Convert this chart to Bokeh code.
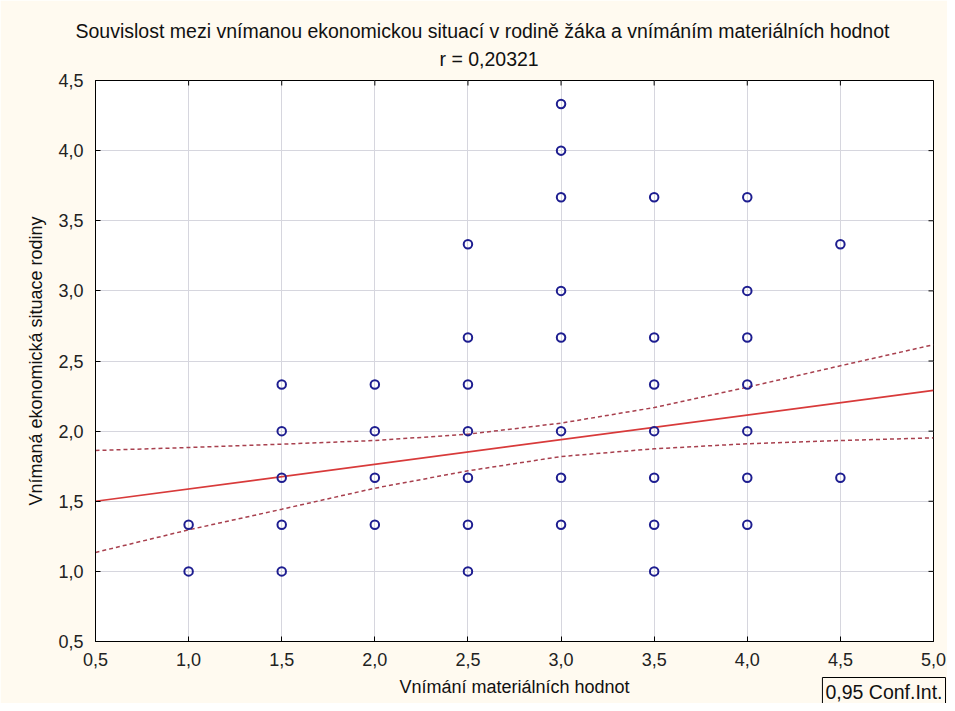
import math
from bokeh.plotting import figure
from bokeh.models import Title, FixedTicker, Range1d
from bokeh.embed import file_html
from bokeh.resources import INLINE

chart_title = "Souvislost mezi vnímanou ekonomickou situací v rodině žáka a vnímáním materiálních hodnot"
chart_subtitle = "r = 0,20321"
x_label = "Vnímání materiálních hodnot"
y_label = "Vnímaná ekonomická situace rodiny"
legend_text = "0,95 Conf.Int."

x_ticks = [0.5, 1.0, 1.5, 2.0, 2.5, 3.0, 3.5, 4.0, 4.5, 5.0]
x_tick_labels = ["0,5", "1,0", "1,5", "2,0", "2,5", "3,0", "3,5", "4,0", "4,5", "5,0"]
y_ticks = [0.5, 1.0, 1.5, 2.0, 2.5, 3.0, 3.5, 4.0, 4.5]
y_tick_labels = ["0,5", "1,0", "1,5", "2,0", "2,5", "3,0", "3,5", "4,0", "4,5"]

point_x = [1.0, 1.0,
           1.5, 1.5, 1.5, 1.5, 1.5,
           2.0, 2.0, 2.0, 2.0,
           2.5, 2.5, 2.5, 2.5, 2.5, 2.5, 2.5,
           3.0, 3.0, 3.0, 3.0, 3.0, 3.0, 3.0, 3.0,
           3.5, 3.5, 3.5, 3.5, 3.5, 3.5, 3.5,
           4.0, 4.0, 4.0, 4.0, 4.0, 4.0, 4.0,
           4.5, 4.5]
point_y = [1.0, 1.333,
           1.0, 1.333, 1.667, 2.0, 2.333,
           1.333, 1.667, 2.0, 2.333,
           1.0, 1.333, 1.667, 2.0, 2.333, 2.667, 3.333,
           1.333, 1.667, 2.0, 2.667, 3.0, 3.667, 4.0, 4.333,
           1.0, 1.333, 1.667, 2.0, 2.333, 2.667, 3.667,
           1.333, 1.667, 2.0, 2.333, 2.667, 3.0, 3.667,
           1.667, 3.333]

reg_x = [0.5, 5.0]
reg_y = [1.50, 2.29]

band_x = [0.5, 1.0, 1.5, 2.0, 2.5, 3.0, 3.5, 4.0, 4.5, 5.0]
band_upper = [1.862, 1.883, 1.907, 1.933, 1.978, 2.057, 2.168, 2.313, 2.466, 2.616]
band_lower = [1.135, 1.296, 1.443, 1.593, 1.717, 1.819, 1.874, 1.910, 1.933, 1.952]

FONT = "Liberation Sans"
CREAM = "#FFFAF0"

p = figure(width=947, height=703, x_range=Range1d(x_ticks[0], x_ticks[-1]),
           y_range=Range1d(y_ticks[0], y_ticks[-1]),
           output_backend="svg", toolbar_location=None, title=None,
           min_border_left=95, min_border_right=14, min_border_top=80, min_border_bottom=62,
           background_fill_color="white", border_fill_color=CREAM,
           outline_line_color="black", outline_line_width=1)

def style_axis(ax, ticks, labels):
    ax.ticker = FixedTicker(ticks=ticks)
    ax.major_label_overrides = dict(zip(ticks, labels))
    ax.major_tick_in = 5
    ax.major_tick_out = 0
    ax.minor_tick_in = 0
    ax.minor_tick_out = 0
    ax.axis_line_color = "black"
    ax.major_tick_line_color = "black"
    ax.major_label_text_font = FONT
    ax.major_label_text_color = "#222222"
    ax.major_label_text_font_size = "18px"
    ax.axis_label_text_font = FONT
    ax.axis_label_text_font_size = "18px"
    ax.axis_label_text_font_style = "normal"
    ax.axis_label_text_color = "#111111"

xa = p.xaxis[0]
ya = p.yaxis[0]
style_axis(xa, x_ticks, x_tick_labels)
style_axis(ya, y_ticks, y_tick_labels)
xa.axis_label = x_label
ya.axis_label = y_label
xa.major_label_standoff = 11
xa.axis_label_standoff = 8
ya.major_label_standoff = 12
ya.axis_label_standoff = 9

p.xgrid.ticker = FixedTicker(ticks=x_ticks)
p.ygrid.ticker = FixedTicker(ticks=y_ticks)
for g in (p.xgrid[0], p.ygrid[0]):
    g.grid_line_color = "#D6D6DE"
    g.grid_line_width = 1

# inward ticks on the top and right edges of the frame
p.scatter(x_ticks, [y_ticks[-1]] * len(x_ticks), marker="dash", angle=math.pi / 2,
          size=10, line_color="black", line_width=1)
p.scatter([x_ticks[-1]] * len(y_ticks), y_ticks, marker="dash",
          size=10, line_color="black", line_width=1)

sub = Title(text=chart_subtitle, align="left", offset=344, text_font=FONT,
            text_font_size="19.5px", text_font_style="normal", text_color="#111111",
            standoff=22)
p.add_layout(sub, "above")
main = Title(text=chart_title, align="left", offset=-20, text_font=FONT,
             text_font_size="19.5px", text_font_style="normal", text_color="#111111",
             standoff=-15)
p.add_layout(main, "above")

p.line(band_x, band_upper, line_color="#A8404E", line_width=1.5, line_dash="4 3")
p.line(band_x, band_lower, line_color="#A8404E", line_width=1.5, line_dash="4 3")
p.line(reg_x, reg_y, line_color="#D83A3A", line_width=1.7)
p.scatter(point_x, point_y, marker="circle", size=8.5, fill_color=None,
          line_color="#1E1E90", line_width=2)

leg = Title(text=legend_text, align="right", vertical_align="top", offset=-12,
            standoff=-44, text_font=FONT, text_font_size="19.5px", text_font_style="normal",
            text_color="#111111", border_line_color="black", border_line_width=1,
            background_fill_color=CREAM, padding=3)
p.add_layout(leg, "below")

open("out.html", "w").write(file_html(p, INLINE))
